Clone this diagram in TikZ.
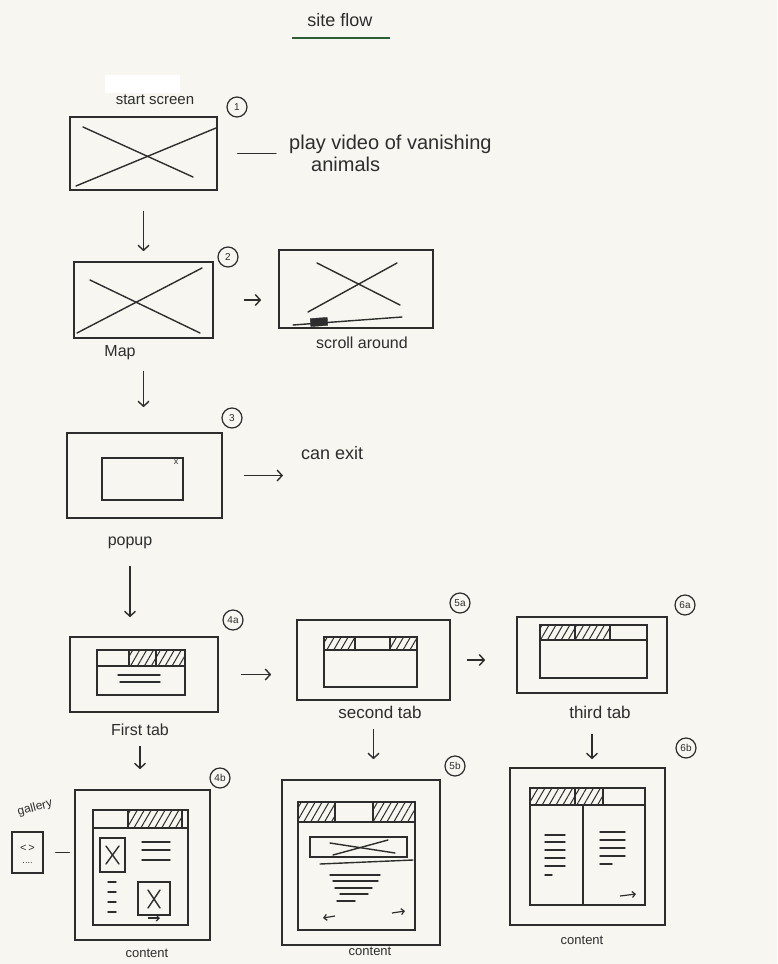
\documentclass[tikz,border=0pt]{standalone}
\usepackage{fontspec}
\setmainfont{Liberation Sans}
\usetikzlibrary{arrows.meta,positioning,calc,patterns.meta}
\definecolor{ink}{RGB}{45,45,45}
\definecolor{paper}{RGB}{247,246,240}
\definecolor{pengreen}{RGB}{45,95,55}

\begin{document}
\begin{tikzpicture}[x=1pt, y=-1pt,
    screen/.style={rectangle, draw=ink, line width=1.6pt, inner sep=0pt},
    pane/.style={rectangle, draw=ink, line width=1.5pt, inner sep=0pt},
    sketch/.style={draw=ink, line width=1.4pt, line cap=round},
    hatchfill/.style={pattern={Lines[angle=60,distance=6pt,line width=1pt]},
                      pattern color=ink},
    tag/.style={circle, draw=ink, line width=1.2pt, inner sep=0.5pt,
                minimum size=20pt, text=ink, font=\fontsize{10}{10}\selectfont},
    note/.style={text=ink, inner sep=1pt, font=\fontsize{16}{19}\selectfont},
    small/.style={text=ink, inner sep=1pt, font=\fontsize{13}{15}\selectfont},
    flow/.style={-{Straight Barb[length=5pt,width=11pt]}, draw=ink, line width=1.4pt},
    tick/.style={-{Straight Barb[length=3pt,width=6pt]}, draw=ink, line width=1.2pt},
  ]
  \fill[paper] (0,0) rectangle (777,964);
  \useasboundingbox (0,0) rectangle (777,964);

  %% Title
  \node[text=ink, font=\fontsize{18}{20}\selectfont] (title) at (340,20) {site flow};
  \draw[pengreen, line width=1.3pt] (292,38) -- (390,38);

  %% 1: start screen
  \fill[white] (105,75) rectangle (180,93);
  \node[screen, minimum width=147, minimum height=73] (s1) at (143.5,153.5) {};
  \draw[sketch] (83,127) -- (193,177);
  \draw[sketch] (76,186) -- (216,128);
  \node[note, font=\fontsize{15}{17}\selectfont] (lblStart) at (155,100) {start screen};
  \node[tag] (c1) at (237,107) {1};
  \node[note, font=\fontsize{20}{22}\selectfont, align=left, anchor=north west]
        (playvid) at (288,134) {play video of vanishing\\\hspace*{1.1em}animals};
  \draw[sketch, shorten <=20pt, shorten >=12pt] (s1.east) -- (s1.east -| playvid.west);

  %% 2: map
  \node[screen, minimum width=139, minimum height=76] (s2) at (143.5,300) {};
  \draw[sketch] (90,280) -- (200,333);
  \draw[sketch] (77,333) -- (202,268);
  \node[note] (lblMap) at (120,353) {Map};
  \node[tag] (c2) at (228,257) {2};
  \node[screen, minimum width=154, minimum height=78] (s2b) at (356,289) {};
  \draw[sketch] (317,263) -- (400,305);
  \draw[sketch] (308,312) -- (397,263);
  \draw[sketch] (293,325) -- (402,317);
  \node[rectangle, fill=ink, draw=ink, minimum width=17, minimum height=8,
        inner sep=0pt, rotate=4] (thumb) at (319,322) {};
  \node[note] (lblScroll) at (362,343) {scroll around};
  \draw[flow, shorten <=30pt, shorten >=17pt] (s2.east) -- (s2.east -| s2b.west);
  \draw[flow, shorten <=20pt, shorten >=10pt] (s1.south) -- (s2.north);

  %% 3: popup
  \node[screen, minimum width=155, minimum height=85] (s3) at (144.5,475.5) {};
  \node[pane, minimum width=81, minimum height=42] (popwin) at (142.5,479) {};
  \node[text=ink, inner sep=0pt, font=\fontsize{9}{9}\selectfont] (popx) at (176,462) {x};
  \node[tag] (c3) at (232,418) {3};
  \node[note] (lblPopup) at (130,543) {popup};
  \node[note, font=\fontsize{18}{20}\selectfont, anchor=west] (canexit) at (300,453) {can exit};
  \draw[flow, shorten <=21pt, shorten >=17pt] (s3.east) -- (s3.east -| canexit.west);
  \draw[flow, shorten <=32pt, shorten >=25pt] (s2.south) -- (s2.south |- s3.north);

  %% 4a: first tab
  \node[screen, minimum width=148, minimum height=75] (s4a) at (144,674.5) {};
  \node[pane, minimum width=88, minimum height=45] (in4a) at (141,672.5) {};
  \path[hatchfill] (129,650) rectangle (185,666);
  \draw[sketch] (97,666) -- (185,666);
  \draw[sketch] (129,650) -- (129,666);
  \draw[sketch] (156,650) -- (156,666);
  \draw[sketch] (118,675) -- (160,675);
  \draw[sketch] (120,682) -- (160,682);
  \node[tag] (c4a) at (233,620) {4a};
  \node[note] (lblFirst) at (140,730) {First tab};
  \draw[flow, shorten <=16pt, shorten >=19pt] (lblPopup.south) -- (lblPopup.south |- s4a.north);

  %% 5a: second tab
  \node[screen, minimum width=153, minimum height=80] (s5a) at (373.5,660) {};
  \node[pane, minimum width=93, minimum height=50] (in5a) at (370.5,662) {};
  \path[hatchfill] (324,637) rectangle (355,650);
  \path[hatchfill] (390,637) rectangle (417,650);
  \draw[sketch] (324,650) -- (417,650);
  \draw[sketch] (355,637) -- (355,650);
  \draw[sketch] (390,637) -- (390,650);
  \node[tag] (c5a) at (460,603) {5a};
  \node[note, font=\fontsize{17}{19}\selectfont] (lblSecond) at (380,712) {second tab};
  \draw[flow, shorten <=22pt, shorten >=25pt] (s4a.east) -- (s4a.east -| s5a.west);

  %% 6a: third tab
  \node[screen, minimum width=150, minimum height=76] (s6a) at (592,655) {};
  \node[pane, minimum width=107, minimum height=53] (in6a) at (593.5,651.5) {};
  \path[hatchfill] (540,625) rectangle (610,640);
  \draw[sketch] (540,640) -- (647,640);
  \draw[sketch] (575,625) -- (575,640);
  \draw[sketch] (610,625) -- (610,640);
  \node[tag] (c6a) at (685,605) {6a};
  \node[note, font=\fontsize{17}{19}\selectfont] (lblThird) at (600,712) {third tab};
  \draw[flow, shorten <=16pt, shorten >=31pt] (s5a.east) -- (s5a.east -| s6a.west);

  %% 4b: content with gallery
  \node[screen, minimum width=135, minimum height=150] (s4b) at (142.5,865) {};
  \node[pane, minimum width=95, minimum height=115] (in4b) at (140.5,867.5) {};
  \path[hatchfill] (128,810) rectangle (182,828);
  \draw[sketch] (93,828) -- (188,828);
  \draw[sketch] (128,810) -- (128,828);
  \draw[sketch] (182,810) -- (182,828);
  \node[pane, minimum width=25, minimum height=34] (img1) at (112.5,855) {};
  \draw[sketch] (106,846) -- (119,864);
  \draw[sketch] (119,846) -- (106,864);
  \node[pane, minimum width=32, minimum height=33] (img2) at (154,898.5) {};
  \draw[sketch] (148,890) -- (160,908);
  \draw[sketch] (160,890) -- (148,908);
  \foreach \yy in {842,850,860}{
    \draw[sketch] (142,\yy) -- (170,\yy);
  }
  \foreach \yy in {882,892,902,912}{
    \draw[sketch] (108,\yy) -- (116,\yy);
  }
  \draw[tick] (148,918) -- (160,918);
  \node[tag] (c4b) at (220,778) {4b};
  \node[small] (lblCont1) at (147,953) {content};
  \node[pane, minimum width=31, minimum height=41] (gal) at (27.5,852.5) {};
  \node[text=ink, inner sep=0pt, font=\fontsize{11}{11}\selectfont] (galArrows) at (27.5,848) {<\,>};
  \node[text=ink, inner sep=0pt, font=\fontsize{9}{9}\selectfont] (galDots) at (27.5,863) {....};
  \node[small, font=\fontsize{12}{14}\selectfont, rotate=15] (lblGallery) at (35,808) {gallery};
  \draw[sketch, shorten <=12pt, shorten >=5pt] (gal.east) -- (gal.east -| s4b.west);
  \draw[flow, shorten <=9pt, shorten >=20pt] (lblFirst.south) -- (lblFirst.south |- s4b.north);

  %% 5b: content with image
  \node[screen, minimum width=158, minimum height=165] (s5b) at (361,862.5) {};
  \node[pane, minimum width=117, minimum height=128] (in5b) at (356.5,866) {};
  \path[hatchfill] (298,802) rectangle (335,822);
  \path[hatchfill] (373,802) rectangle (415,822);
  \draw[sketch] (298,822) -- (415,822);
  \draw[sketch] (335,802) -- (335,822);
  \draw[sketch] (373,802) -- (373,822);
  \node[pane, minimum width=97, minimum height=20] (img5b) at (358.5,847) {};
  \draw[sketch] (330,843) -- (395,853);
  \draw[sketch] (333,855) -- (388,840);
  \draw[sketch] (320,864) -- (413,860);
  \foreach \xa/\xb/\yy in {330/380/875, 333/378/881, 335/372/888, 340/368/894, 337/355/901}{
    \draw[sketch] (\xa,\yy) -- (\xb,\yy);
  }
  \draw[tick] (335,916) -- (323,918);
  \draw[tick] (392,913) -- (405,911);
  \node[tag] (c5b) at (455,766) {5b};
  \node[small] (lblCont2) at (370,951) {content};
  \draw[flow, shorten <=10pt, shorten >=20pt] (s5a.south |- lblSecond.south) -- (s5a.south |- s5b.north);

  %% 6b: content in two columns
  \node[screen, minimum width=155, minimum height=157] (s6b) at (587.5,846.5) {};
  \node[pane, minimum width=115, minimum height=117] (in6b) at (587.5,846.5) {};
  \path[hatchfill] (530,788) rectangle (603,805);
  \draw[sketch] (530,805) -- (645,805);
  \draw[sketch] (575,788) -- (575,805);
  \draw[sketch] (603,788) -- (603,805);
  \draw[sketch] (583,805) -- (583,905);
  \foreach \yy in {835,842,850,858,866}{
    \draw[sketch] (545,\yy) -- (565,\yy);
  }
  \draw[sketch] (545,875) -- (552,875);
  \foreach \yy in {832,840,848,856}{
    \draw[sketch] (600,\yy) -- (625,\yy);
  }
  \draw[sketch] (600,864) -- (612,864);
  \draw[tick] (620,896) -- (636,894);
  \node[tag] (c6b) at (686,748) {6b};
  \node[small] (lblCont3) at (582,940) {content};
  \draw[flow, shorten <=15pt, shorten >=8pt] (s6a.south |- lblThird.south) -- (s6a.south |- s6b.north);
\end{tikzpicture}
\end{document}
